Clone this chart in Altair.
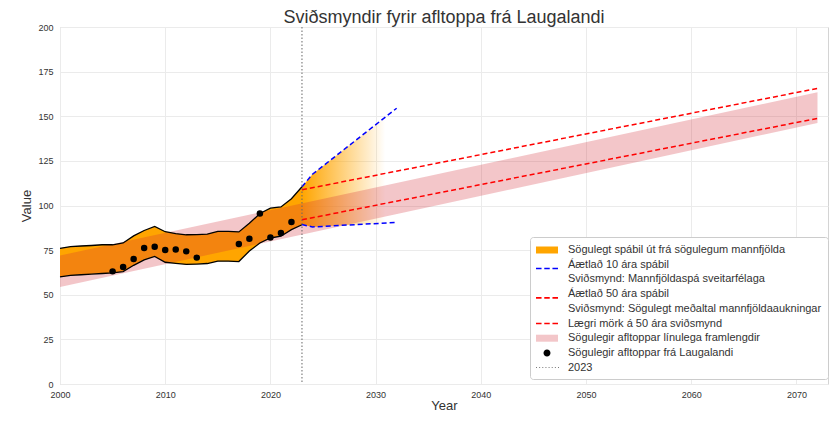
import altair as alt
import pandas as pd

# ---------------- data ----------------
hist_years = list(range(2000, 2024))
band_upper = [76.0, 77.0, 77.3, 77.6, 78.0, 78.0, 79.0, 83.0, 86.0, 88.3, 85.3, 84.3,
              83.6, 83.7, 84.0, 85.5, 85.5, 85.2, 90.0, 95.5, 98.5, 99.2, 103.8, 110.5]
band_lower = [60.0, 60.9, 61.2, 61.6, 61.9, 62.2, 63.0, 66.5, 69.5, 71.5, 68.2, 67.6,
              67.0, 67.2, 67.5, 68.8, 68.8, 68.6, 74.5, 79.0, 81.8, 82.8, 86.5, 89.2]

obs_years = [2005, 2006, 2007, 2008, 2009, 2010, 2011, 2012, 2013,
             2017, 2018, 2019, 2020, 2021, 2022]
obs_values = [63.1, 65.6, 70.0, 76.2, 76.9, 75.1, 75.4, 74.3, 70.8,
              78.4, 81.4, 95.5, 82.1, 84.6, 90.7]

trend_years = [2000, 2072]
trend_upper = [72.0, 163.4]
trend_lower = [54.4, 146.2]

fan_years = [2023, 2024, 2032]
fan_upper = [110.5, 117.5, 154.5]
fan_lower = [89.3, 88.0, 90.5]

scen_years = [2023, 2072]
scen_upper = [108.8, 165.6]
scen_lower = [92.0, 148.8]

marker_year = [2023]

# legend rows (a two-line entry is given as two rows)
legend_labels = [
    "Sögulegt spábil út frá sögulegum mannfjölda",
    "Áætlað 10 ára spábil",
    "Sviðsmynd: Mannfjöldaspá sveitarfélaga",
    "Áætlað 50 ára spábil",
    "Sviðsmynd: Sögulegt meðaltal mannfjöldaaukningar",
    "Lægri mörk á 50 ára sviðsmynd",
    "Sögulegir afltoppar línulega framlengdir",
    "Sögulegir afltoppar frá Laugalandi",
    "2023",
]

x_ticks = list(range(2000, 2071, 10))
y_ticks = list(range(0, 201, 25))

# ---------------- styles ----------------
FONT = "Liberation Sans"
W, H = 768, 357
ORANGE = "#FFA500"
PINK = "#D32C37"


def rect_path(hw, hh, dy=0.0):
    return f"M{-hw},{-hh + dy}H{hw}V{hh + dy}H{-hw}Z"


def dash_path(segs, hh, dy=0.0):
    return " ".join(f"M{a},{-hh + dy}H{b}V{hh + dy}H{a}Z" for a, b in segs)


dash_segs = [(-1.57, -0.78), (-0.39, 0.39), (0.78, 1.57)]
dash_mid = dash_path(dash_segs, 0.11, dy=0.54)   # centred between two text lines
dash_one = dash_path(dash_segs, 0.11)
dots = dash_path([(round(-1.57 + i * 0.449, 3), round(-1.57 + i * 0.449 + 0.14, 3)) for i in range(8)], 0.07)
circle = "M-0.5,0A0.5,0.5,0,1,1,0.5,0A0.5,0.5,0,1,1,-0.5,0Z"
empty = "M0,0Z"

legend_colors = [ORANGE, "#0000FF", "rgba(0,0,0,0)", "#FF0000", "rgba(0,0,0,0)",
                 "#FF0000", "#F3C6C9", "#000000", "#777777"]
legend_shapes = [rect_path(1.57, 0.5), dash_mid, empty, dash_mid, empty,
                 dash_one, rect_path(1.57, 0.5), circle, dots]

xscale = alt.Scale(domain=[2000, 2073], nice=False, zero=False)
yscale = alt.Scale(domain=[0, 200], nice=False)
xaxis = alt.Axis(values=x_ticks, format="d", title="Year", labelFlush=False,
                 labelPadding=6, titlePadding=0)
yaxis = alt.Axis(values=y_ticks, title="Value", labelFlush=False,
                 labelPadding=7, titlePadding=4)


def X(field="year"):
    return alt.X(f"{field}:Q", scale=xscale, axis=xaxis)


def Y(field):
    return alt.Y(f"{field}:Q", scale=yscale, axis=yaxis)


hist_df = pd.DataFrame({"year": hist_years, "hi": band_upper, "lo": band_lower})
obs_df = pd.DataFrame({"year": obs_years, "value": obs_values})
trend_df = pd.DataFrame({"year": trend_years, "hi": trend_upper, "lo": trend_lower})
fan_df = pd.DataFrame({"year": fan_years, "hi": fan_upper, "lo": fan_lower})
scen_df = pd.DataFrame({"year": scen_years, "hi": scen_upper, "lo": scen_lower})
mark_df = pd.DataFrame({"year": marker_year})
leg_df = pd.DataFrame({"label": legend_labels})

band = alt.Chart(hist_df).mark_area(color=ORANGE, opacity=1).encode(
    x=X(), y=Y("hi"), y2="lo")
band_hi = alt.Chart(hist_df).mark_line(color="black", strokeWidth=1.3).encode(x=X(), y=Y("hi"))
band_lo = alt.Chart(hist_df).mark_line(color="black", strokeWidth=1.3).encode(x=X(), y=Y("lo"))

fan = alt.Chart(fan_df).mark_area(
    color=alt.Gradient(
        gradient="linear",
        stops=[alt.GradientStop(color="rgba(255,165,0,1)", offset=0),
               alt.GradientStop(color="rgba(255,165,0,0.55)", offset=0.4),
               alt.GradientStop(color="rgba(255,165,0,0)", offset=0.88)],
        x1=0, x2=1, y1=0, y2=0)
).encode(x=X(), y=Y("hi"), y2="lo")

trend = alt.Chart(trend_df).mark_area(color=PINK, opacity=0.27).encode(
    x=X(), y=Y("hi"), y2="lo")

fan_hi = alt.Chart(fan_df).mark_line(color="#0000FF", strokeDash=[5, 3], strokeWidth=1.5).encode(
    x=X(), y=Y("hi"))
fan_lo = alt.Chart(fan_df).mark_line(color="#0000FF", strokeDash=[5, 3], strokeWidth=1.5).encode(
    x=X(), y=Y("lo"))

scen_hi = alt.Chart(scen_df).mark_line(color="#FF0000", strokeDash=[5, 3], strokeWidth=1.5).encode(
    x=X(), y=Y("hi"))
scen_lo = alt.Chart(scen_df).mark_line(color="#FF0000", strokeDash=[5, 3], strokeWidth=1.5).encode(
    x=X(), y=Y("lo"))

vline = alt.Chart(mark_df).mark_rule(color="#666666", strokeDash=[1.5, 2], strokeWidth=1).encode(
    x=X())

pts = alt.Chart(obs_df).mark_circle(color="black", size=42, opacity=1).encode(
    x=X(), y=Y("value"))

leg = alt.Legend(
    title=None, orient="none", legendX=470, legendY=210,
    symbolSize=196, symbolOffset=4, symbolStrokeWidth=0, labelOffset=14,
    labelFont=FONT, labelFontSize=11, labelColor="#333333", labelLimit=500,
    fillColor="white", strokeColor="#cccccc", cornerRadius=3, padding=6, rowPadding=2.7,
)

legend_layer = alt.Chart(leg_df).mark_point(filled=True, clip=True, opacity=1).encode(
    x=alt.value(-500), y=alt.value(-500),
    color=alt.Color("label:N", scale=alt.Scale(domain=legend_labels, range=legend_colors), legend=leg),
    shape=alt.Shape("label:N", scale=alt.Scale(domain=legend_labels, range=legend_shapes), legend=leg),
)

chart = alt.layer(
    band, fan, trend, band_hi, band_lo, fan_hi, fan_lo, scen_hi, scen_lo, vline, pts, legend_layer
).properties(
    width=W, height=H,
    title=alt.TitleParams("Sviðsmyndir fyrir afltoppa frá Laugalandi", fontSize=18, font=FONT,
                          fontWeight="normal", color="#333333", anchor="middle", frame="group",
                          offset=-4),
    autosize=alt.AutoSizeParams(type="none"),
    padding={"left": 52, "top": 19, "right": 1, "bottom": 30},
    background="white",
).configure_view(
    stroke="#d4d4d4", strokeWidth=1
).configure_axis(
    grid=True, gridColor="#ebebeb", gridWidth=1, domain=False, ticks=False,
    labelFont=FONT, labelFontSize=9, labelColor="#333333",
    titleFont=FONT, titleFontSize=13, titleFontWeight="normal", titleColor="#333333",
)

chart.save("out.html", embed_options={"renderer": "svg", "actions": False})
